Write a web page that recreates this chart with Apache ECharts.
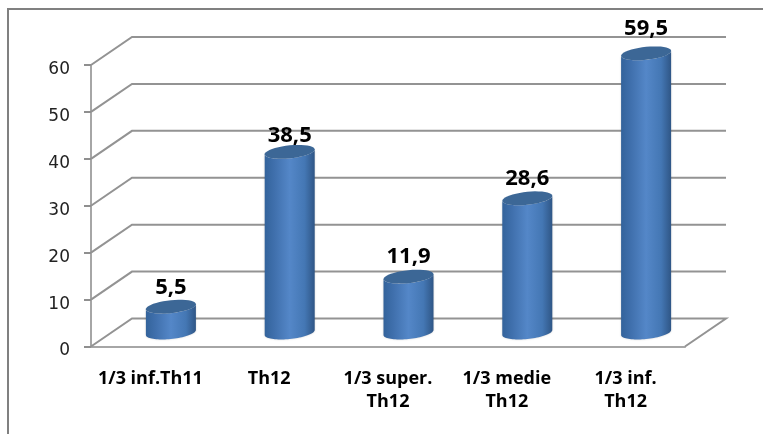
<!DOCTYPE html>
<html>
<head>
<meta charset="utf-8">
<style>html,body{margin:0;padding:0;background:#fff}#chart{width:763px;height:434px}</style>
<script src="https://cdn.jsdelivr.net/npm/echarts@6/dist/echarts.min.js"></script>
</head>
<body>
<div id="chart"></div>
<script>
// Chart values
const categories = ['1/3 inf.Th11', 'Th12', '1/3 super.\nTh12', '1/3 medie\nTh12', '1/3 inf.\nTh12'];
const values = [5.5, 38.5, 11.9, 28.6, 59.5];
const yTicks = [0, 10, 20, 30, 40, 50, 60];

// Oblique projection used for the fake 3D box
const DEPTH_X = 41, DEPTH_Y = 28;
const RADIUS_X = 25, RADIUS_Y = 6.5, TILT = 2.5;
const LINE = '#939393';
// Gap between each cylinder's top and its value label
const LABEL_LIFT = [19, 16, 20, 20, 25];

function ellipsePoints(cx, cy, from, to) {
  const pts = [];
  const n = 40;
  for (let i = 0; i <= n; i++) {
    const t = from + (to - from) * i / n;
    pts.push([cx + RADIUS_X * Math.cos(t), cy + RADIUS_Y * Math.sin(t) - TILT * Math.cos(t)]);
  }
  return pts;
}

function renderWall(params, api) {
  const g = params.coordSys;
  const y = api.coord([0, api.value(1)])[1];
  const left = g.x, right = g.x + g.width;
  const points = [[left, y], [left + DEPTH_X, y - DEPTH_Y], [right + DEPTH_X, y - DEPTH_Y]];
  if (api.value(1) === 0) points.push([right, y]);
  return {
    type: 'polyline',
    shape: { points },
    style: { fill: 'none', stroke: LINE, lineWidth: 2 }
  };
}

function renderCylinder(params, api) {
  const top = api.coord([api.value(0), api.value(1)]);
  const base = api.coord([api.value(0), 0]);
  const cx = top[0] + DEPTH_X / 2;
  const yTop = top[1] - DEPTH_Y / 2;
  const yBase = base[1] - DEPTH_Y / 2;
  const body = ellipsePoints(cx, yBase, 0, Math.PI).concat(ellipsePoints(cx, yTop, Math.PI, 0));
  return {
    type: 'group',
    children: [
      {
        type: 'polygon',
        shape: { points: body },
        style: {
          fill: new echarts.graphic.LinearGradient(0, 0, 1, 0, [
            { offset: 0, color: '#33639b' },
            { offset: 0.2, color: '#4070ad' },
            { offset: 0.5, color: '#5487c8' },
            { offset: 0.8, color: '#4477b4' },
            { offset: 1, color: '#2f5686' }
          ]),
          shadowBlur: 2,
          shadowColor: 'rgba(0,0,0,0.2)'
        }
      },
      {
        type: 'polygon',
        shape: { points: ellipsePoints(cx, yTop, 0, Math.PI * 2) },
        style: { fill: '#3c6796' }
      },
      {
        type: 'text',
        style: {
          x: cx,
          y: yTop - LABEL_LIFT[params.dataIndex],
          text: String(api.value(1)).replace('.', ','),
          fill: '#000',
          font: 'bold 22px "Open Sans", sans-serif',
          align: 'center',
          verticalAlign: 'middle'
        }
      }
    ]
  };
}

const chart = echarts.init(document.getElementById('chart'), null, { renderer: 'canvas' });
chart.setOption({
  animation: false,
  backgroundColor: '#fff',
  grid: { left: 91, right: 78, top: 65, bottom: 87.5 },
  graphic: [
    // Outer frame: only the top and left edges sit inside the view
    { type: 'polyline', silent: true, shape: { points: [[8, 434], [8, 9], [763, 9]] },
      style: { fill: 'none', stroke: '#808080', lineWidth: 2 } }
  ],
  xAxis: {
    type: 'category',
    data: categories,
    axisLine: { lineStyle: { color: '#a6a6a6', width: 2 } },
    axisTick: { length: 6, lineStyle: { color: '#8f8f8f', width: 2 } },
    axisLabel: {
      color: '#000', fontFamily: 'Open Sans', fontWeight: 'bold', fontSize: 18,
      margin: 21, lineHeight: 23, interval: 0
    }
  },
  yAxis: {
    type: 'value',
    min: 0, max: 60, interval: 10,
    splitLine: { show: false },
    axisLine: { show: true, lineStyle: { color: '#a6a6a6', width: 2 } },
    axisTick: { show: true, length: 7, lineStyle: { color: '#8f8f8f', width: 2 } },
    axisLabel: {
      color: '#222', fontFamily: 'DejaVu Sans', fontSize: 17, margin: 21,
      verticalAlign: 'top', lineHeight: 9,
      formatter: v => yTicks.includes(v) ? String(v) : ''
    }
  },
  series: [
    {
      type: 'custom',
      renderItem: renderWall,
      clip: false,
      z: 1,
      data: yTicks.map(v => [0, v])
    },
    {
      type: 'custom',
      renderItem: renderCylinder,
      clip: false,
      z: 3,
      data: values.map((v, i) => [i, v])
    }
  ]
});
</script>
</body>
</html>
